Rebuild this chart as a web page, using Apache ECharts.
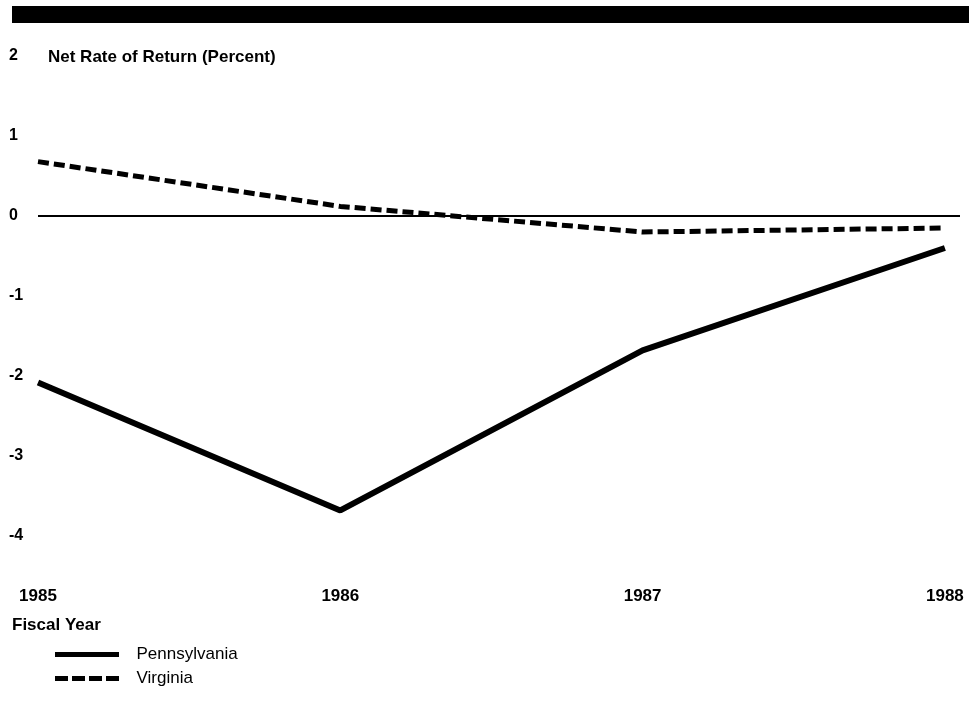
<!DOCTYPE html>
<html>
<head>
<meta charset="utf-8">
<script src="https://cdn.jsdelivr.net/npm/echarts@6/dist/echarts.min.js"></script>
<style>
  html, body { margin: 0; padding: 0; background: #fff; }
  #chart { width: 969px; height: 713px; }
</style>
</head>
<body>
<div id="chart"></div>
<script>
const years = [1985, 1986, 1987, 1988];
const pennsylvania = [-2.08, -3.68, -1.68, -0.4];
const virginia = [0.68, 0.12, -0.2, -0.15];
const yTicks = [-4, -3, -2, -1, 0, 1, 2];

const font = "'Liberation Sans', Arial, sans-serif";
const pairs = (vals) => years.map((y, i) => [y, vals[i]]);

// legend swatches: a solid bar and four dashes
const solidIcon = "path://M0,0h64v5h-64z";
const dashIcon = "path://M0,0h13v5h-13z M17,0h13v5h-13z M34,0h13v5h-13z M51,0h13v5h-13z";

const chart = echarts.init(document.getElementById("chart"));
chart.setOption({
  backgroundColor: "#fff",
  animation: false,
  textStyle: { fontFamily: font, color: "#000" },
  graphic: [
    { type: "rect", shape: { x: 12, y: 6, width: 957, height: 17 }, style: { fill: "#000" } },
    {
      type: "text", left: 48, top: 49,
      style: { text: "Net Rate of Return (Percent)", font: "bold 17px " + font, fill: "#000" }
    },
    {
      type: "text", left: 12, top: 617,
      style: { text: "Fiscal Year", font: "bold 17px " + font, fill: "#000" }
    }
  ],
  legend: {
    orient: "vertical",
    left: 50,
    top: 641,
    itemWidth: 65,
    itemHeight: 5,
    itemGap: 7,
    textStyle: { fontFamily: font, fontSize: 17, color: "#000", padding: [0, 0, 0, 12] },
    data: [
      { name: "Pennsylvania", icon: solidIcon },
      { name: "Virginia", icon: dashIcon }
    ]
  },
  grid: { left: 38, right: 9, top: 56, bottom: 177 },
  xAxis: {
    type: "value",
    min: 1985,
    max: 1988.05,
    interval: 1,
    axisLine: { show: false },
    axisTick: { show: false },
    splitLine: { show: false },
    axisLabel: {
      margin: 52,
      fontWeight: "bold",
      fontSize: 17,
      color: "#000",
      showMaxLabel: false,
      formatter: (v) => (Number.isInteger(v) ? String(v) : "")
    }
  },
  yAxis: {
    type: "value",
    min: yTicks[0],
    max: yTicks[yTicks.length - 1],
    interval: 1,
    axisLine: { show: false },
    axisTick: { show: false },
    splitLine: { show: false },
    axisLabel: {
      align: "left",
      margin: 29,
      fontWeight: "bold",
      fontSize: 16,
      color: "#000"
    }
  },
  series: [
    {
      name: "Pennsylvania",
      type: "line",
      data: pairs(pennsylvania),
      symbol: "none",
      lineStyle: { color: "#000", width: 6 },
      itemStyle: { color: "#000" },
      markLine: {
        silent: true,
        symbol: "none",
        label: { show: false },
        lineStyle: { color: "#000", width: 2, type: "solid" },
        data: [{ yAxis: 0 }]
      }
    },
    {
      name: "Virginia",
      type: "line",
      data: pairs(virginia),
      symbol: "none",
      lineStyle: { color: "#000", width: 5, type: [11, 5] },
      itemStyle: { color: "#000" }
    }
  ]
});
</script>
</body>
</html>
